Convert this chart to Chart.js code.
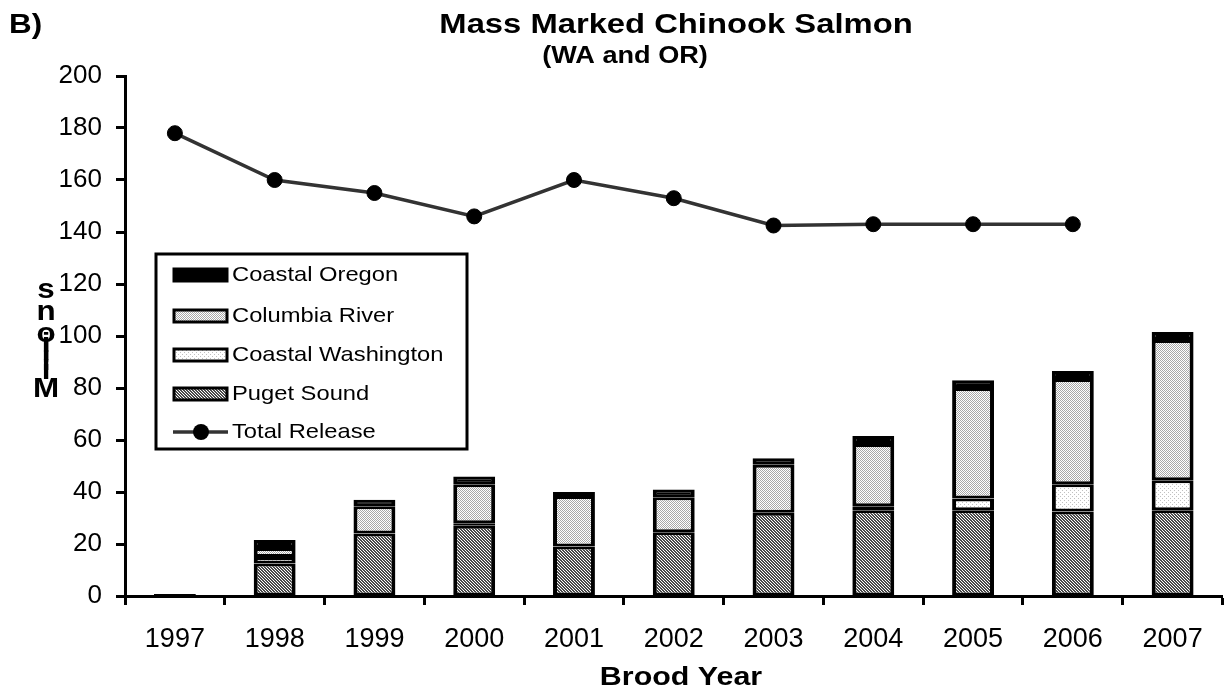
<!DOCTYPE html>
<html>
<head>
<meta charset="utf-8">
<title>Mass Marked Chinook Salmon</title>
<script src="https://cdn.jsdelivr.net/npm/chart.js@4.4.1/dist/chart.umd.min.js"></script>
<style>
  html, body { margin: 0; padding: 0; background: #fff; }
  canvas { display: block; }
</style>
</head>
<body>
<canvas id="chart" width="1231" height="694"></canvas>
<script>
// Brood years and releases (millions)
const broodYears = ["1997", "1998", "1999", "2000", "2001", "2002", "2003", "2004", "2005", "2006", "2007"];
const pugetSound = [0.8, 12.5, 24, 27, 19, 24.5, 32, 33, 33, 32.5, 33];
const coastalWashington = [0, 2.5, 0, 1, 0, 0, 0, 1.5, 4.5, 10.5, 11.5];
const columbiaRiver = [0, 3.5, 10.5, 15, 19.5, 13.5, 18.5, 24, 42.5, 40.5, 54];
const coastalOregon = [0, 3, 2.5, 3, 1.5, 3, 2.5, 3, 3, 3, 3];
const totalRelease = [178, 160, 155, 146, 160, 153, 142.5, 143, 143, 143, null];
const yMin = 0, yMax = 200, yStep = 20;

const FONT = "'Liberation Sans', Arial, Helvetica, sans-serif";
const canvas = document.getElementById("chart");
const ctx = canvas.getContext("2d");

// small fill patterns like the old Excel hatches
function makePattern(size, dots) {
  const c = document.createElement("canvas");
  c.width = c.height = size;
  const g = c.getContext("2d");
  g.fillStyle = "#fff";
  g.fillRect(0, 0, size, size);
  for (let x = 0; x < size; x++) {
    for (let y = 0; y < size; y++) {
      const col = dots(x, y);
      if (col) { g.fillStyle = col; g.fillRect(x, y, 1, 1); }
    }
  }
  return ctx.createPattern(c, "repeat");
}
const pugetFill = makePattern(3, (x, y) => ((x - y + 6) % 3 < 2 ? "#4a4a4a" : null));
const columbiaFill = makePattern(4, (x, y) => ((x + y) % 2 === 0 ? "#a8a8a8" : null));
const coastWaFill = makePattern(4, (x, y) => ((x === 0 && y === 0) || (x === 2 && y === 2) ? "#c0c0c0" : null));

const barBorder = { top: 3, bottom: 3, left: 4, right: 4 };
function barSet(label, data, fill) {
  return {
    type: "bar",
    label: label,
    data: data,
    backgroundColor: fill,
    borderColor: "#000",
    borderWidth: barBorder,
    borderSkipped: false,
    barPercentage: 0.42,
    categoryPercentage: 1,
    order: 1,
  };
}

function drawText(c, text, x, y, font, sx, align) {
  c.save();
  c.font = font;
  c.fillStyle = "#000";
  c.textBaseline = "middle";
  c.textAlign = align || "center";
  c.translate(x, y);
  c.scale(sx, 1);
  c.fillText(text, 0, 0);
  c.restore();
}

// titles, stacked y label and the boxed legend
const decor = {
  id: "decor",
  afterDraw(chart) {
    const c = chart.ctx;
    drawText(c, "B)", 9, 25, "bold 28px " + FONT, 1.12, "left");
    drawText(c, "Mass Marked Chinook Salmon", 676, 25, "bold 28px " + FONT, 1.17);
    drawText(c, "(WA and OR)", 625, 56, "bold 24px " + FONT, 1.13);
    drawText(c, "Brood Year", 681, 678, "bold 26px " + FONT, 1.17);

    // vertical "Millions", letters piled up
    const letters = [["M", 389], ["i", 371], ["l", 362], ["l", 352], ["i", 344], ["o", 334], ["n", 312], ["s", 290]];
    letters.forEach(([ch, y]) => drawText(c, ch, 46, y, "bold 28px " + FONT, 1.12));

    // legend box
    c.save();
    c.strokeStyle = "#000";
    c.lineWidth = 3;
    c.fillStyle = "#fff";
    c.fillRect(156, 254, 311, 195);
    c.strokeRect(156, 254, 311, 195);
    const ds = chart.data.datasets;
    const items = [ds[3], ds[2], ds[1], ds[0], ds[4]];
    const rows = [275, 316, 355, 394, 432];
    items.forEach((d, i) => {
      const y = rows[i];
      if (d.type === "line") {
        c.strokeStyle = d.borderColor;
        c.lineWidth = d.borderWidth;
        c.beginPath();
        c.moveTo(173, y);
        c.lineTo(228, y);
        c.stroke();
        c.fillStyle = d.pointBackgroundColor;
        c.beginPath();
        c.arc(201, y, 8, 0, Math.PI * 2);
        c.fill();
      } else {
        c.fillStyle = d.backgroundColor;
        c.fillRect(174, y - 6, 53, 12);
        c.strokeStyle = "#000";
        c.lineWidth = 3;
        c.strokeRect(174, y - 6, 53, 12);
        if (d.label === "Coastal Oregon") {
          c.fillStyle = "#000";
          c.fillRect(173, y - 7, 55, 14);
        }
      }
      drawText(c, d.label, 232, y, "21px " + FONT, 1.13, "left");
    });
    c.restore();
  },
};

new Chart(ctx, {
  data: {
    labels: broodYears,
    datasets: [
      barSet("Puget Sound", pugetSound, pugetFill),
      barSet("Coastal Washington", coastalWashington, coastWaFill),
      barSet("Columbia River", columbiaRiver, columbiaFill),
      barSet("Coastal Oregon", coastalOregon, "#000"),
      {
        type: "line",
        label: "Total Release",
        data: totalRelease,
        borderColor: "#333",
        borderWidth: 3.5,
        pointRadius: 7.5,
        pointBackgroundColor: "#000",
        pointBorderColor: "#000",
        pointBorderWidth: 1,
        tension: 0,
        order: 0,
      },
    ],
  },
  options: {
    responsive: false,
    animation: false,
    layout: { padding: { top: 76, left: 0, right: 0, bottom: 0 } },
    plugins: {
      legend: { display: false },
      tooltip: { enabled: false },
      title: { display: false },
    },
    scales: {
      x: {
        stacked: true,
        offset: true,
        grid: { offset: true, drawOnChartArea: false, tickLength: 9, tickWidth: 3, tickColor: "#000" },
        border: { color: "#000", width: 3 },
        ticks: { color: "#000", font: { family: FONT, size: 27 }, padding: 18, maxRotation: 0 },
        afterFit(scale) { scale.height = 98; },
      },
      y: {
        stacked: true,
        min: yMin,
        max: yMax,
        grid: { drawOnChartArea: false, tickLength: 9, tickWidth: 3, tickColor: "#000" },
        border: { color: "#000", width: 3 },
        ticks: { stepSize: yStep, color: "#000", font: { family: FONT, size: 26 }, padding: 14 },
        afterFit(scale) { scale.width = 125; },
      },
    },
  },
  plugins: [decor],
});
</script>
</body>
</html>
